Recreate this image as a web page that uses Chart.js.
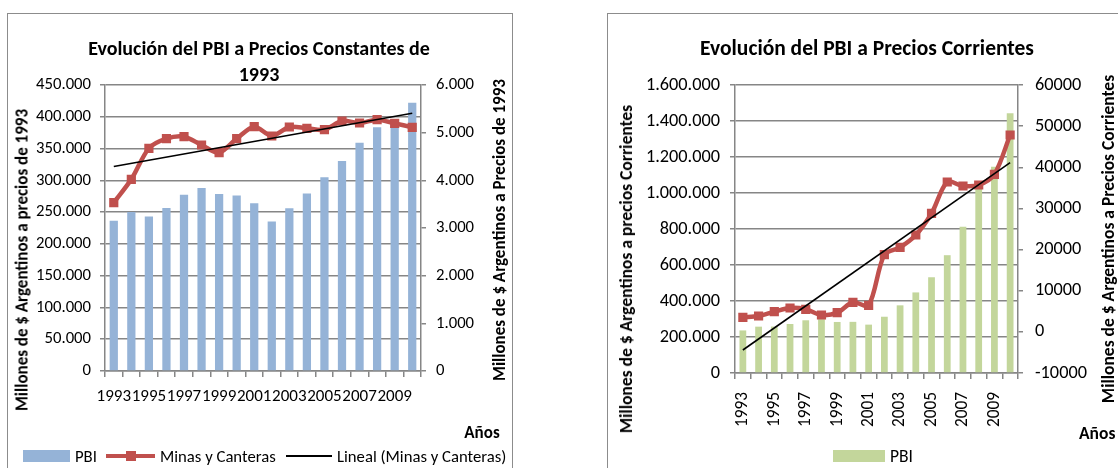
<!DOCTYPE html>
<html>
<head>
<meta charset="utf-8">
<script src="https://cdn.jsdelivr.net/npm/chart.js"></script>
<style>
  body { margin: 0; width: 1118px; height: 468px; overflow: hidden; background: #fff; position: relative;
         font-family: Carlito, Calibri, Lato, sans-serif; color: #000; }
  .frame { position: absolute; border: 1px solid #8c8c8c; box-sizing: border-box; }
  canvas { position: absolute; }
  .t { position: absolute; white-space: nowrap; font-weight: bold; transform: translate(-50%, -50%); }
  .v { transform: translate(-50%, -50%) rotate(-90deg); }
  .lg { position: absolute; font-size: 16.7px; white-space: nowrap; line-height: 18px; }
  .sw { position: absolute; }
</style>
</head>
<body>
<div class="frame" style="left:7px;top:13px;width:506px;height:470px"></div>
<div class="frame" style="left:607px;top:13px;width:530px;height:470px"></div>

<canvas id="c1" width="503" height="454" style="left:8px;top:14px"></canvas>
<canvas id="c2" width="510" height="454" style="left:608px;top:14px"></canvas>

<!-- textos del grafico 1 -->
<div class="t" style="left:259px;top:48px;font-size:20px">Evolución del PBI a Precios Constantes de</div>
<div class="t" style="left:259px;top:74px;font-size:20px">1993</div>
<div class="t v" style="left:22px;top:260px;font-size:17px">Millones de $ Argentinos a precios de 1993</div>
<div class="t v" style="left:499px;top:230px;font-size:17px">Millones de $ Argentinos a Precios de 1993</div>
<div class="t" style="left:482px;top:432px;font-size:17px">Años</div>

<div class="sw" style="left:23px;top:450px;width:47px;height:12px;background:#95B3D7"></div>
<div class="lg" style="left:75px;top:447px">PBI</div>
<div class="sw" style="left:106px;top:454px;width:49px;height:4px;background:#C0504D"></div>
<div class="sw" style="left:126px;top:451px;width:10px;height:10px;background:#C0504D"></div>
<div class="lg" style="left:160px;top:447px">Minas y Canteras</div>
<div class="sw" style="left:286px;top:455px;width:46px;height:2px;background:#000"></div>
<div class="lg" style="left:337px;top:447px">Lineal (Minas y Canteras)</div>

<!-- textos del grafico 2 -->
<div class="t" style="left:867px;top:48px;font-size:21.5px">Evolución del PBI a Precios Corrientes</div>
<div class="t v" style="left:626px;top:269px;font-size:17.5px">Millones de $ Argentinos a precios Corrientes</div>
<div class="t v" style="left:1108px;top:239px;font-size:17.5px">Millones de $ Argentinos a Precios Corrientes</div>
<div class="t" style="left:1079px;top:433px;font-size:17.5px;transform:translate(0,-50%)">Años</div>

<div class="sw" style="left:833px;top:450px;width:52px;height:12px;background:#C3D69B"></div>
<div class="lg" style="left:890px;top:447px;font-size:17.5px">PBI</div>

<script>
// datos
const years = ['1993','1994','1995','1996','1997','1998','1999','2000','2001',
               '2002','2003','2004','2005','2006','2007','2008','2009','2010'];

// precios constantes de 1993
const pbiConst = [236505, 250308, 243186, 256626, 277441, 288123, 278369, 276173, 263997,
                  235236, 256023, 279141, 304764, 330565, 359170, 383444, 386704, 422130];
const minasConst = [3531, 4021, 4671, 4874, 4916, 4741, 4580, 4874, 5126,
                    4930, 5119, 5091, 5063, 5245, 5203, 5273, 5196, 5112];
const trendConstEnds = [4290, 5406];

// precios corrientes
const pbiCorr = [236505, 257440, 258032, 272150, 292859, 298948, 283523, 284204, 268697,
                 312580, 375909, 447643, 531939, 654439, 812456, 1032758, 1145458, 1442655];
const minasCorr = [3533, 3854, 4900, 5800, 5480, 4100, 4660, 7185, 6455,
                   18750, 20550, 23540, 28810, 36420, 35450, 35700, 38300, 47850];
const trendCorrEnds = [-4410, 41120];

// ticks
const ticksConstLeft = [0, 50000, 100000, 150000, 200000, 250000, 300000, 350000, 400000, 450000];
const ticksConstRight = [0, 1000, 2000, 3000, 4000, 5000, 6000];
const ticksCorrLeft = [0, 200000, 400000, 600000, 800000, 1000000, 1200000, 1400000, 1600000];
const ticksCorrRight = [-10000, 0, 10000, 20000, 30000, 40000, 50000, 60000];

const FONT = 'Carlito, Calibri, Lato, sans-serif';
const GRID = '#868686';
const RED = '#C0504D';

function miles(v) {
  return String(v).replace(/\B(?=(\d{3})+(?!\d))/g, '.');
}

function trendData(ends) {
  const arr = years.map(() => null);
  arr[0] = ends[0];
  arr[arr.length - 1] = ends[1];
  return arr;
}

function yScale(ticks, pos, width, fmt, onArea, pad, size) {
  return {
    type: 'linear',
    position: pos,
    min: ticks[0],
    max: ticks[ticks.length - 1],
    afterBuildTicks: s => { s.ticks = ticks.map(v => ({ value: v })); },
    afterFit: s => { s.width = width; },
    grid: { color: GRID, lineWidth: 1.5, tickLength: 5, drawOnChartArea: onArea },
    border: { display: true, color: GRID, width: 1.5 },
    ticks: { font: { family: FONT, size: size }, color: '#000', padding: pad, callback: fmt }
  };
}

function makeChart(id, cfg) {
  new Chart(document.getElementById(id), {
    data: {
      labels: years,
      datasets: [
        { type: 'line', data: trendData(cfg.trend), yAxisID: 'y1', borderColor: '#000', borderWidth: 1.6,
          pointRadius: 0, spanGaps: true, tension: 0, order: 1 },
        { type: 'line', data: cfg.minas, yAxisID: 'y1', borderColor: RED, backgroundColor: RED, borderWidth: 4.5,
          pointStyle: 'rect', pointRadius: 6.5, pointBorderWidth: 0, tension: 0.3, order: 2 },
        { type: 'bar', data: cfg.pbi, yAxisID: 'y', backgroundColor: cfg.barColor,
          barPercentage: cfg.barPct, categoryPercentage: 1, order: 3 }
      ]
    },
    options: {
      responsive: false,
      animation: false,
      devicePixelRatio: 1,
      layout: { padding: { top: 71, left: 0, right: 0, bottom: 0 } },
      plugins: { legend: { display: false }, tooltip: { enabled: false } },
      scales: {
        x: {
          afterFit: s => { s.height = cfg.xHeight; },
          grid: { offset: true, color: GRID, lineWidth: 1.5, tickLength: 6, drawOnChartArea: false },
          border: { display: true, color: GRID, width: 1.5 },
          ticks: {
            font: { family: FONT, size: cfg.xSize }, color: '#000', autoSkip: false,
            minRotation: cfg.rot, maxRotation: cfg.rot, padding: cfg.xPad,
            callback: function (v, i) { return i % 2 === 0 ? this.getLabelForValue(v) : ''; }
          }
        },
        y: yScale(cfg.leftTicks, 'left', cfg.leftW, cfg.leftFmt, true, cfg.lPad, cfg.ySize),
        y1: yScale(cfg.rightTicks, 'right', cfg.rightW, cfg.rightFmt, false, cfg.rPad, cfg.ySize)
      }
    }
  });
}

makeChart('c1', {
  pbi: pbiConst, minas: minasConst, trend: trendConstEnds, barColor: '#95B3D7', barPct: 0.47,
  leftTicks: ticksConstLeft, rightTicks: ticksConstRight, leftW: 97, rightW: 90, xHeight: 97,
  leftFmt: v => miles(v), rightFmt: v => miles(v), rot: 0, xPad: 10, lPad: 9, rPad: 10,
  xSize: 17, ySize: 16.7
});

makeChart('c2', {
  pbi: pbiCorr, minas: minasCorr, trend: trendCorrEnds, barColor: '#C3D69B', barPct: 0.43,
  leftTicks: ticksCorrLeft, rightTicks: ticksCorrRight, leftW: 127, rightW: 100, xHeight: 95,
  leftFmt: v => miles(v), rightFmt: v => String(v), rot: 90, xPad: 13, lPad: 10, rPad: 12,
  xSize: 17.3, ySize: 18.3
});
</script>
</body>
</html>
